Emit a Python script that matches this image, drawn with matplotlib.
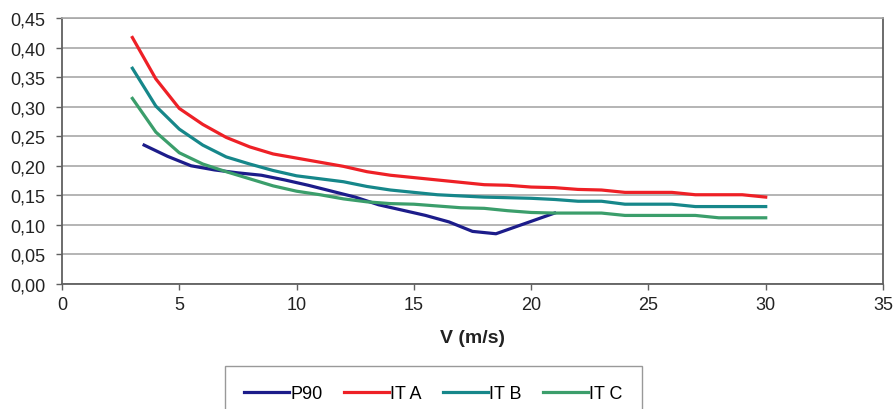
import matplotlib
matplotlib.use("Agg")
import matplotlib.pyplot as plt
from matplotlib.ticker import FuncFormatter

plt.rcParams['font.family'] = ['Liberation Sans', 'DejaVu Sans']

# wind speed (m/s)
v_it = [3, 4, 5, 6, 7, 8, 9, 10, 11, 12, 13, 14, 15, 16, 17, 18, 19, 20,
        21, 22, 23, 24, 25, 26, 27, 28, 29, 30]
v_p90 = [3.5, 4.5, 5.5, 6.5, 7.5, 8.5, 9.5, 10.5, 11.5, 12.5, 13.5, 14.5,
         15.5, 16.5, 17.5, 18.5, 19.5, 20.5, 21.0]

p90 = [0.235, 0.216, 0.200, 0.193, 0.188, 0.184, 0.176, 0.167, 0.157, 0.147,
       0.134, 0.125, 0.116, 0.105, 0.089, 0.085, 0.099, 0.113, 0.120]
it_a = [0.417, 0.347, 0.297, 0.270, 0.248, 0.232, 0.220, 0.213, 0.206, 0.199,
        0.190, 0.184, 0.180, 0.176, 0.172, 0.168, 0.167, 0.164, 0.163, 0.160,
        0.159, 0.155, 0.155, 0.155, 0.151, 0.151, 0.151, 0.147]
it_b = [0.365, 0.301, 0.262, 0.235, 0.215, 0.203, 0.192, 0.183, 0.178, 0.173,
        0.165, 0.159, 0.155, 0.151, 0.149, 0.147, 0.146, 0.145, 0.143, 0.140,
        0.140, 0.135, 0.135, 0.135, 0.131, 0.131, 0.131, 0.131]
it_c = [0.314, 0.257, 0.222, 0.203, 0.190, 0.178, 0.166, 0.157, 0.151, 0.144,
        0.139, 0.136, 0.135, 0.132, 0.129, 0.128, 0.124, 0.121, 0.120, 0.120,
        0.120, 0.116, 0.116, 0.116, 0.116, 0.112, 0.112, 0.112]

fig = plt.figure(figsize=(8.94, 4.10), dpi=100)
ax = fig.add_axes([62/894, 1-285/410, (883-62)/894, (285-19)/410])

lw = 2.3
ax.plot(v_p90, p90, color='#1c1c8a', lw=lw, label='P90')
ax.plot(v_it, it_a, color='#ee2026', lw=lw, label='IT A')
ax.plot(v_it, it_b, color='#16878a', lw=lw, label='IT B')
ax.plot(v_it, it_c, color='#3b9e6b', lw=lw, label='IT C')

ax.set_xlim(0, 35)
ax.set_ylim(0, 0.45)
ax.set_xticks(range(0, 36, 5))
ax.set_yticks([i*0.05 for i in range(10)])
ax.yaxis.set_major_formatter(FuncFormatter(lambda y, p: f"{y:.2f}".replace('.', ',')))
ax.grid(axis='y', color='#a8a8a8', lw=1.2)
ax.set_axisbelow(True)
for s in ['left', 'bottom', 'right']:
    ax.spines[s].set_color('#606060')
    ax.spines[s].set_linewidth(1.3)
ax.spines['top'].set_color('#a8a8a8')
ax.spines['top'].set_linewidth(1.2)
ax.tick_params(axis='both', colors='#606060', labelcolor='#222222',
               labelsize=13, length=4, width=1)
ax.tick_params(axis='y', pad=8)
ax.tick_params(axis='x', pad=5)
ax.set_xlabel('V (m/s)', fontsize=14, fontweight='bold', color='#222222', labelpad=11)

fig.legend(loc='upper left', bbox_to_anchor=(225/894, 1-367/410), ncol=4,
           frameon=True, fancybox=False, edgecolor='#808080', fontsize=13,
           handlelength=2.5, handletextpad=0.05, columnspacing=1.2,
           borderpad=1.05, borderaxespad=0)

fig.savefig('out.png', dpi=100)
